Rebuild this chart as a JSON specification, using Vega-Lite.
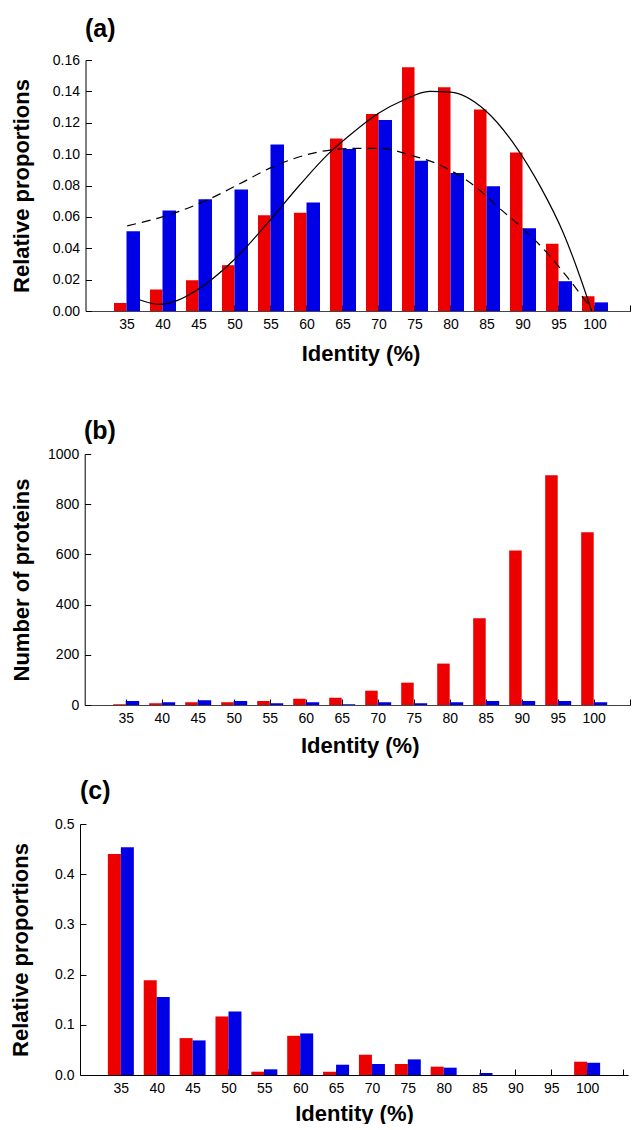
{
  "$schema": "https://vega.github.io/schema/vega-lite/v6.json",
  "padding": {"left": 9, "top": 17, "right": 0, "bottom": 0},
  "background": "white",
  "config": {
    "view": {"stroke": null},
    "font": "Liberation Sans",
    "axis": {"grid": false, "labelFont": "Liberation Sans", "labelFontSize": 14, "labelColor": "#000", "titleFont": "Liberation Sans", "titleFontSize": 22, "titleFontWeight": "bold", "titleColor": "#000", "domainColor": "#000", "tickColor": "#000", "tickSize": -6, "labelPadding": 12},
    "title": {"font": "Liberation Sans", "fontSize": 25, "fontWeight": "bold", "anchor": "start", "frame": "group", "color": "#000"}
  },
  "datasets": {
    "a": [
      {"identity": 35, "group": "red", "value": 0.0051}, {"identity": 35, "group": "blue", "value": 0.0509},
      {"identity": 40, "group": "red", "value": 0.0137}, {"identity": 40, "group": "blue", "value": 0.0641},
      {"identity": 45, "group": "red", "value": 0.0196}, {"identity": 45, "group": "blue", "value": 0.0713},
      {"identity": 50, "group": "red", "value": 0.0292}, {"identity": 50, "group": "blue", "value": 0.0775},
      {"identity": 55, "group": "red", "value": 0.0611}, {"identity": 55, "group": "blue", "value": 0.1062},
      {"identity": 60, "group": "red", "value": 0.0626}, {"identity": 60, "group": "blue", "value": 0.0692},
      {"identity": 65, "group": "red", "value": 0.110}, {"identity": 65, "group": "blue", "value": 0.1032},
      {"identity": 70, "group": "red", "value": 0.1255}, {"identity": 70, "group": "blue", "value": 0.1217},
      {"identity": 75, "group": "red", "value": 0.1553}, {"identity": 75, "group": "blue", "value": 0.0957},
      {"identity": 80, "group": "red", "value": 0.1426}, {"identity": 80, "group": "blue", "value": 0.0879},
      {"identity": 85, "group": "red", "value": 0.1285}, {"identity": 85, "group": "blue", "value": 0.0796},
      {"identity": 90, "group": "red", "value": 0.1011}, {"identity": 90, "group": "blue", "value": 0.0528},
      {"identity": 95, "group": "red", "value": 0.0428}, {"identity": 95, "group": "blue", "value": 0.0190},
      {"identity": 100, "group": "red", "value": 0.0094}, {"identity": 100, "group": "blue", "value": 0.0055}
    ],
    "afit": [
      {"identity": 36.7, "series": "solid", "value": 0.0073},
      {"identity": 39.4, "series": "solid", "value": 0.0043},
      {"identity": 42.1, "series": "solid", "value": 0.0068},
      {"identity": 44.9, "series": "solid", "value": 0.0137},
      {"identity": 49.8, "series": "solid", "value": 0.032},
      {"identity": 54.4, "series": "solid", "value": 0.055},
      {"identity": 59.0, "series": "solid", "value": 0.080},
      {"identity": 63.0, "series": "solid", "value": 0.100},
      {"identity": 66.0, "series": "solid", "value": 0.112},
      {"identity": 70.0, "series": "solid", "value": 0.126},
      {"identity": 73.5, "series": "solid", "value": 0.1345},
      {"identity": 77.1, "series": "solid", "value": 0.1400},
      {"identity": 80.0, "series": "solid", "value": 0.1395},
      {"identity": 84.8, "series": "solid", "value": 0.128},
      {"identity": 89.4, "series": "solid", "value": 0.1026},
      {"identity": 92.5, "series": "solid", "value": 0.0791},
      {"identity": 95.7, "series": "solid", "value": 0.0494},
      {"identity": 98.0, "series": "solid", "value": 0.0217},
      {"identity": 99.6, "series": "solid", "value": 0.0},
      {"identity": 35.1, "series": "dashed", "value": 0.0543},
      {"identity": 41.5, "series": "dashed", "value": 0.0622},
      {"identity": 46.2, "series": "dashed", "value": 0.0707},
      {"identity": 50.8, "series": "dashed", "value": 0.0813},
      {"identity": 55.3, "series": "dashed", "value": 0.0919},
      {"identity": 60.8, "series": "dashed", "value": 0.1005},
      {"identity": 66.7, "series": "dashed", "value": 0.1037},
      {"identity": 70.3, "series": "dashed", "value": 0.1037},
      {"identity": 74.4, "series": "dashed", "value": 0.0994},
      {"identity": 78.0, "series": "dashed", "value": 0.0941},
      {"identity": 83.5, "series": "dashed", "value": 0.0791},
      {"identity": 87.1, "series": "dashed", "value": 0.0643},
      {"identity": 89.8, "series": "dashed", "value": 0.0536},
      {"identity": 93.5, "series": "dashed", "value": 0.0366},
      {"identity": 96.2, "series": "dashed", "value": 0.0217},
      {"identity": 99.4, "series": "dashed", "value": 0.0026}
    ],
    "b": [
      {"identity": 35, "group": "red", "value": 3}, {"identity": 35, "group": "blue", "value": 16},
      {"identity": 40, "group": "red", "value": 7}, {"identity": 40, "group": "blue", "value": 11},
      {"identity": 45, "group": "red", "value": 11}, {"identity": 45, "group": "blue", "value": 19},
      {"identity": 50, "group": "red", "value": 11}, {"identity": 50, "group": "blue", "value": 16},
      {"identity": 55, "group": "red", "value": 16}, {"identity": 55, "group": "blue", "value": 7},
      {"identity": 60, "group": "red", "value": 25}, {"identity": 60, "group": "blue", "value": 11},
      {"identity": 65, "group": "red", "value": 29}, {"identity": 65, "group": "blue", "value": 3},
      {"identity": 70, "group": "red", "value": 57}, {"identity": 70, "group": "blue", "value": 11},
      {"identity": 75, "group": "red", "value": 89}, {"identity": 75, "group": "blue", "value": 7},
      {"identity": 80, "group": "red", "value": 165}, {"identity": 80, "group": "blue", "value": 11},
      {"identity": 85, "group": "red", "value": 346}, {"identity": 85, "group": "blue", "value": 16},
      {"identity": 90, "group": "red", "value": 616}, {"identity": 90, "group": "blue", "value": 16},
      {"identity": 95, "group": "red", "value": 915}, {"identity": 95, "group": "blue", "value": 16},
      {"identity": 100, "group": "red", "value": 688}, {"identity": 100, "group": "blue", "value": 11}
    ],
    "c": [
      {"identity": 35, "group": "red", "value": 0.4404}, {"identity": 35, "group": "blue", "value": 0.4536},
      {"identity": 40, "group": "red", "value": 0.1887}, {"identity": 40, "group": "blue", "value": 0.1556},
      {"identity": 45, "group": "red", "value": 0.0735}, {"identity": 45, "group": "blue", "value": 0.0689},
      {"identity": 50, "group": "red", "value": 0.1166}, {"identity": 50, "group": "blue", "value": 0.1265},
      {"identity": 55, "group": "red", "value": 0.0066}, {"identity": 55, "group": "blue", "value": 0.0113},
      {"identity": 60, "group": "red", "value": 0.0781}, {"identity": 60, "group": "blue", "value": 0.0828},
      {"identity": 65, "group": "red", "value": 0.0066}, {"identity": 65, "group": "blue", "value": 0.0205},
      {"identity": 70, "group": "red", "value": 0.0404}, {"identity": 70, "group": "blue", "value": 0.0219},
      {"identity": 75, "group": "red", "value": 0.0219}, {"identity": 75, "group": "blue", "value": 0.0311},
      {"identity": 80, "group": "red", "value": 0.0166}, {"identity": 80, "group": "blue", "value": 0.0146},
      {"identity": 85, "group": "red", "value": 0}, {"identity": 85, "group": "blue", "value": 0.004},
      {"identity": 90, "group": "red", "value": 0}, {"identity": 90, "group": "blue", "value": 0},
      {"identity": 95, "group": "red", "value": 0}, {"identity": 95, "group": "blue", "value": 0},
      {"identity": 100, "group": "red", "value": 0.0265}, {"identity": 100, "group": "blue", "value": 0.0245}
    ]
  },
  "vconcat": [
    {
      "width": 550, "height": 251,
      "title": {"text": "(a)", "offset": 11, "dx": 5},
      "data": {"name": "a"},
      "encoding": {
        "x": {"field": "identity", "type": "quantitative", "scale": {"domain": [30, 105], "nice": false, "zero": false, "range": [5.5, 555.5]},
              "axis": {"values": [35, 40, 45, 50, 55, 60, 65, 70, 75, 80, 85, 90, 95, 100, 105], "labelExpr": "datum.value > 100 ? '' : datum.label", "title": ["Identity (%)", " "], "titleLineHeight": 32, "titlePadding": 12, "domainColor": "#444", "labelFlush": false}},
        "y": {"field": "value", "type": "quantitative", "scale": {"domain": [0, 0.16], "nice": false},
              "axis": {"values": [0, 0.02, 0.04, 0.06, 0.08, 0.1, 0.12, 0.14, 0.16], "format": ".2f", "title": "Relative proportions", "titlePadding": 19, "offset": -5.5}}
      },
      "layer": [
        {"transform": [{"filter": "datum.group === 'red'"}], "mark": {"type": "bar", "width": 12.5, "xOffset": -6.25, "color": "#ec0000"}},
        {"transform": [{"filter": "datum.group === 'blue'"}], "mark": {"type": "bar", "width": 13.5, "xOffset": 6.75, "color": "#0000e6"}},
        {"data": {"name": "afit"}, "transform": [{"filter": "datum.series === 'solid'"}], "mark": {"type": "line", "color": "#000", "strokeWidth": 1.2, "interpolate": "monotone"}},
        {"data": {"name": "afit"}, "transform": [{"filter": "datum.series === 'dashed'"}], "mark": {"type": "line", "color": "#000", "strokeWidth": 1.2, "strokeDash": [9, 6], "interpolate": "monotone"}}
      ]
    },
    {
      "width": 550, "height": 251,
      "title": {"text": "(b)", "offset": 3, "dx": 4},
      "data": {"name": "b"},
      "encoding": {
        "x": {"field": "identity", "type": "quantitative", "scale": {"domain": [30, 105], "nice": false, "zero": false, "range": [4.7, 554.7]},
              "axis": {"values": [35, 40, 45, 50, 55, 60, 65, 70, 75, 80, 85, 90, 95, 100, 105], "labelExpr": "datum.value > 100 ? '' : datum.label", "title": "Identity (%)", "titlePadding": 10, "domainColor": "#444", "labelFlush": false}},
        "y": {"field": "value", "type": "quantitative", "scale": {"domain": [0, 1000], "nice": false},
              "axis": {"values": [0, 200, 400, 600, 800, 1000], "format": "d", "title": "Number of proteins", "titlePadding": 14.4, "offset": -4.7}}
      },
      "layer": [
        {"transform": [{"filter": "datum.group === 'red'"}], "mark": {"type": "bar", "width": 12.5, "xOffset": -6.25, "color": "#ec0000"}},
        {"transform": [{"filter": "datum.group === 'blue'"}], "mark": {"type": "bar", "width": 13.5, "xOffset": 6.75, "color": "#0000e6"}}
      ]
    },
    {
      "width": 548, "height": 251,
      "title": {"text": "(c)", "offset": 13},
      "data": {"name": "c"},
      "encoding": {
        "x": {"field": "identity", "type": "quantitative", "scale": {"domain": [30, 105], "nice": false, "zero": false},
              "axis": {"values": [35, 40, 45, 50, 55, 60, 65, 70, 75, 80, 85, 90, 95, 100, 105], "labelExpr": "datum.value > 100 ? '' : datum.label", "title": "Identity (%)", "titlePadding": 8, "labelFlush": false}},
        "y": {"field": "value", "type": "quantitative", "scale": {"domain": [0, 0.5], "nice": false},
              "axis": {"values": [0, 0.1, 0.2, 0.3, 0.4, 0.5], "format": ".1f", "title": "Relative proportions", "titlePadding": 22}}
      },
      "layer": [
        {"transform": [{"filter": "datum.group === 'red'"}], "mark": {"type": "bar", "width": 13, "xOffset": -6.5, "color": "#ec0000"}},
        {"transform": [{"filter": "datum.group === 'blue'"}], "mark": {"type": "bar", "width": 13, "xOffset": 6.5, "color": "#0000e6"}}
      ]
    }
  ],
  "spacing": 23
}
